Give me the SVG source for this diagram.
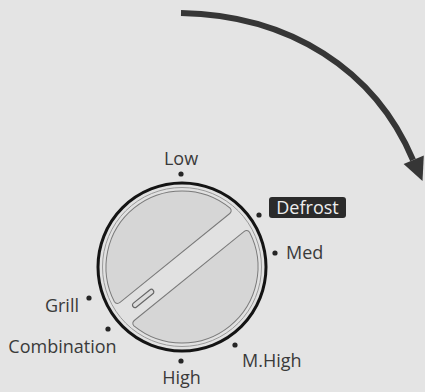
<svg xmlns="http://www.w3.org/2000/svg" width="425" height="392" viewBox="0 0 425 392">
  <style>
    .lbl { font-family: "Open Sans", "Liberation Sans", Arial, sans-serif; font-size: 18px; fill: #3a3a3a; }
    .dot { fill: #262626; }
    .seg { fill: #d6d6d6; stroke: #7a7a7a; stroke-width: 1; }
  </style>
  <rect width="425" height="392" fill="#e4e4e4"/>

  <g id="connectors">
    <path d="M181,13 C290,15 375,70 413,160" fill="none" stroke="#363636" stroke-width="6"/>
    <polygon points="403.6,164 423.8,155.4 422.5,181" fill="#363636"/>
  </g>

  <g id="dial" transform="translate(182,267)">
    <circle r="84" fill="#e1e1e1" stroke="#141414" stroke-width="3"/>
    <circle r="79.5" fill="none" stroke="#9a9a9a" stroke-width="1"/>
    <g transform="rotate(-39)">
      <path class="seg" d="M-70,-11.5 L70,-11.5 Q74.6,-11.5 74.4,-15.5 A76 76 0 0 0 -74.4,-15.5 Q-74.6,-11.5 -70,-11.5 Z"/>
      <path class="seg" d="M-70,11.5 L70,11.5 Q74.6,11.5 74.4,15.5 A76 76 0 0 1 -74.4,15.5 Q-74.6,11.5 -70,11.5 Z"/>
      <rect x="-63" y="-2.5" width="26" height="5" rx="2.5" fill="#dcdcdc" stroke="#666" stroke-width="1.2"/>
    </g>
  </g>

  <g id="low">
    <circle class="dot" cx="181" cy="174" r="2.6"/>
    <text class="lbl" x="181" y="165" text-anchor="middle">Low</text>
  </g>
  <g id="defrost">
    <circle class="dot" cx="259" cy="215" r="2.6"/>
    <rect x="269" y="197" width="77" height="21" rx="3" fill="#2b2b2b"/>
    <text class="lbl" x="307.5" y="214" text-anchor="middle" style="fill:#eeeeee">Defrost</text>
  </g>
  <g id="med">
    <circle class="dot" cx="275" cy="253" r="2.6"/>
    <text class="lbl" x="286" y="259">Med</text>
  </g>
  <g id="mhigh">
    <circle class="dot" cx="235" cy="345" r="2.6"/>
    <text class="lbl" x="242" y="367">M.High</text>
  </g>
  <g id="high">
    <circle class="dot" cx="181" cy="361" r="2.6"/>
    <text class="lbl" x="181.5" y="384" text-anchor="middle">High</text>
  </g>
  <g id="combination">
    <circle class="dot" cx="108" cy="329" r="2.6"/>
    <text class="lbl" x="62.5" y="353" text-anchor="middle">Combination</text>
  </g>
  <g id="grill">
    <circle class="dot" cx="89" cy="298" r="2.6"/>
    <text class="lbl" x="79" y="312" text-anchor="end">Grill</text>
  </g>
</svg>
